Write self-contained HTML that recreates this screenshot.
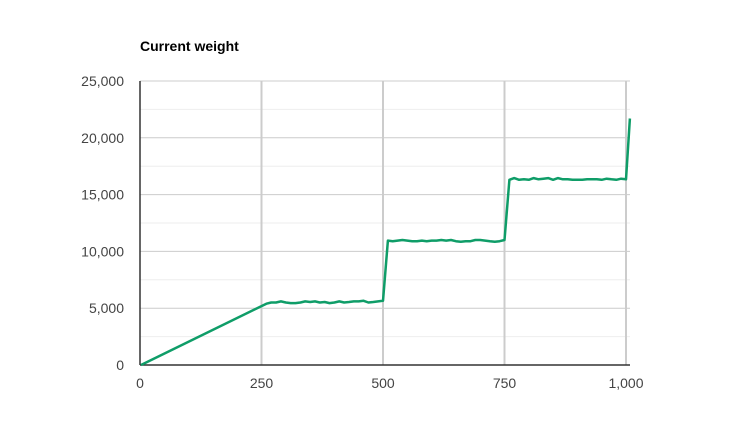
<!DOCTYPE html>
<html><head><meta charset="utf-8"><style>
body{margin:0;background:#fff;width:748px;height:442px;overflow:hidden}
text{font-family:"Liberation Sans",Arial,sans-serif}
</style></head><body>
<svg id="chart" width="748" height="442">
<text x="140" y="51" font-size="14" font-weight="bold" fill="#000">Current weight</text>
<g id="grid"></g><g id="axes"></g><g id="series"></g>
</svg>
<script>
const xTicks=[0,250,500,750,1000];
const xTickLabels=["0","250","500","750","1,000"];
const yTicks=[0,5000,10000,15000,20000,25000];
const yTickLabels=["0","5,000","10,000","15,000","20,000","25,000"];
const xValues=[2,260,270,280,290,300,310,320,330,340,350,360,370,380,390,400,410,420,430,440,450,460,470,480,490,500,510,520,530,540,550,560,570,580,590,600,610,620,630,640,650,660,670,680,690,700,710,720,730,740,750,760,770,780,790,800,810,820,830,840,850,860,870,880,890,900,910,920,930,940,950,960,970,980,990,1000,1008];
const yValues=[0,5400,5500,5500,5600,5500,5450,5450,5500,5600,5550,5600,5500,5550,5450,5500,5600,5500,5550,5600,5600,5650,5500,5550,5600,5650,10950,10900,10950,11000,10950,10900,10900,10950,10900,10950,10950,11000,10950,11000,10900,10850,10900,10900,11000,11000,10950,10900,10850,10900,11000,16300,16450,16300,16350,16300,16450,16350,16400,16450,16300,16450,16350,16350,16300,16300,16300,16350,16350,16350,16300,16400,16350,16300,16400,16350,21700];
const L=140,R=626,T=81,B=365;
const xs=v=>L+(v-0)/1000*(R-L);
const ys=v=>B-v/25000*(B-T);
const ns="http://www.w3.org/2000/svg";
function mk(tag,attrs,parent){const e=document.createElementNS(ns,tag);for(const k in attrs)e.setAttribute(k,attrs[k]);parent.appendChild(e);return e;}
const grid=document.getElementById('grid'),axes=document.getElementById('axes'),series=document.getElementById('series');
for(let v=2500;v<25000;v+=5000){
 const g=mk('line',{x1:L,x2:R+4,y1:ys(v),y2:ys(v),stroke:'#eeeeee','stroke-width':1},grid);
 
 
}
yTicks.forEach((v,i)=>{
 if(v>0){const g=mk('line',{x1:L,x2:R+4,y1:ys(v),y2:ys(v),stroke:'#cccccc','stroke-width':1},grid);
 
 }
 const t=mk('text',{x:L-16,y:ys(v)+5,'text-anchor':'end','font-size':14,fill:'#444'},axes);t.textContent=yTickLabels[i];
 
 
});
xTicks.forEach((v,i)=>{
 if(v>0){const g=mk('line',{x1:xs(v),x2:xs(v),y1:T,y2:B,stroke:'#cccccc','stroke-width':2},grid);
 
 }
 const t=mk('text',{x:xs(v),y:B+23,'text-anchor':'middle','font-size':14,fill:'#444'},axes);t.textContent=xTickLabels[i];
 
 
});
const xa=mk('line',{x1:L,x2:R+4,y1:B,y2:B,stroke:'#333','stroke-width':1.5},axes);


const ya=mk('line',{x1:L,x2:L,y1:T,y2:B,stroke:'#333','stroke-width':1.5},axes);


const d=xValues.map((x,i)=>(i?'L':'M')+xs(x).toFixed(1)+','+ys(yValues[i]).toFixed(1)).join(' ');
const p=mk('path',{d:d,fill:'none',stroke:'#0f9d68','stroke-width':2.5,'stroke-linejoin':'round'},series);


</script>
</body></html>
